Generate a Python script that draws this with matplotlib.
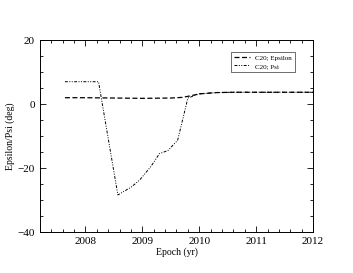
import numpy as np
import matplotlib
matplotlib.use('Agg')
import matplotlib.pyplot as plt
from matplotlib.ticker import MultipleLocator

plt.rcParams['font.family'] = ['Liberation Serif', 'DejaVu Serif']

# C20 epsilon
eps_t = [2007.64, 2008.0, 2008.5, 2009.0, 2009.5, 2009.7, 2009.85, 2010.0, 2010.3, 2010.6, 2011.0, 2011.5, 2012.0]
eps_v = [2.0, 2.0, 1.9, 1.8, 1.9, 2.1, 2.6, 3.2, 3.6, 3.7, 3.7, 3.7, 3.7]

# C20 psi
psi_t = [2007.64, 2008.23, 2008.57, 2008.8, 2008.95, 2009.15, 2009.30, 2009.45, 2009.62, 2009.80, 2010.0, 2010.3, 2010.6, 2011.0, 2011.5, 2012.0]
psi_v = [7.0, 7.0, -28.4, -26.0, -23.8, -19.5, -15.5, -14.5, -11.3, 1.9, 3.2, 3.6, 3.7, 3.7, 3.7, 3.7]

fig = plt.figure(figsize=(3.53, 2.73), dpi=100)
ax = fig.add_axes([0.113, 0.150, 0.774, 0.703])

ax.plot(eps_t, eps_v, color='black', lw=0.9, ls=(0, (4, 2)), label='C20; Epsilon')
ax.plot(psi_t, psi_v, color='black', lw=0.7, ls=(0, (3, 1.5, 1, 1.5, 1, 1.5)), label='C20; Psi')

ax.set_xlim(2007.2, 2012)
ax.set_ylim(-40, 20)
ax.xaxis.set_major_locator(MultipleLocator(1))
ax.xaxis.set_minor_locator(MultipleLocator(0.2))
ax.yaxis.set_major_locator(MultipleLocator(20))
ax.yaxis.set_minor_locator(MultipleLocator(5))
ax.tick_params(which='both', direction='in', top=True, right=True, labelsize=8, width=0.6)
ax.tick_params(which='major', length=4)
ax.tick_params(which='minor', length=2)
for s in ax.spines.values():
    s.set_linewidth(0.7)

ax.set_xlabel('Epoch (yr)', fontsize=7, labelpad=1)
ax.set_ylabel('Epsilon/Psi (deg)', fontsize=7, labelpad=2)

leg = ax.legend(loc='upper right', fontsize=5, frameon=True, fancybox=False,
                edgecolor='black', bbox_to_anchor=(0.945, 0.955), handlelength=2.2,
                borderpad=0.4, labelspacing=0.3)
leg.get_frame().set_linewidth(0.5)

fig.savefig('out.png', dpi=100)
